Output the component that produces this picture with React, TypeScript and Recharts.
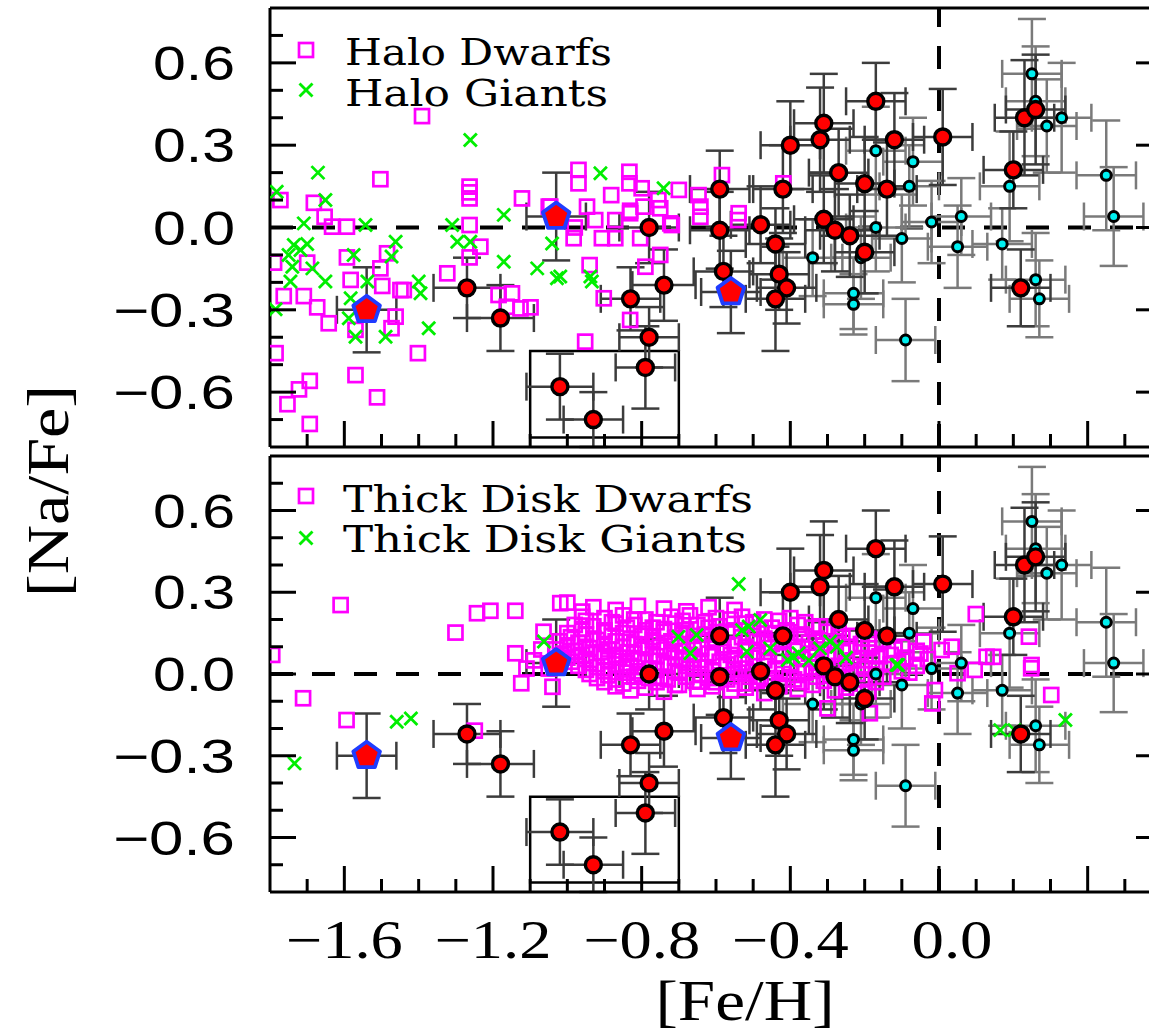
import React from 'react';
import { ScatterChart, Scatter, XAxis, YAxis, ReferenceLine, ReferenceArea, ErrorBar } from 'recharts';

// ---------- axes ----------
const X_DOMAIN: [number, number] = [-1.8, 0.6];
const Y_DOMAIN: [number, number] = [-0.8, 0.8];
const xMajorTicks = [-1.6, -1.2, -0.8, -0.4, 0.0, 0.4];
const xAllTicks = [-1.7, -1.6, -1.5, -1.4, -1.3, -1.2, -1.1, -1.0, -0.9, -0.8, -0.7, -0.6, -0.5, -0.4, -0.3, -0.2, -0.1, 0.0, 0.1, 0.2, 0.3, 0.4, 0.5];
const xLabelTicks = [-1.6, -1.2, -0.8, -0.4, 0.0];
const yMajorTicks = [-0.6, -0.3, 0.0, 0.3, 0.6];
const yAllTicks = [-0.7, -0.6, -0.5, -0.4, -0.3, -0.2, -0.1, 0.0, 0.1, 0.2, 0.3, 0.4, 0.5, 0.6, 0.7];

// ---------- program stars [Fe/H], [Na/Fe], errFe, errNa ----------
const redStars: number[][] = [
  [-1.27, -0.22, 0.09, 0.11], [-1.18, -0.33, 0.09, 0.12], [-1.02, -0.58, 0.09, 0.12], [-0.93, -0.70, 0.08, 0.10],
  [-0.79, -0.51, 0.08, 0.15], [-0.78, -0.40, 0.08, 0.11], [-0.83, -0.26, 0.08, 0.115], [-0.74, -0.21, 0.085, 0.13],
  [-0.78, 0.00, 0.08, 0.13], [-0.59, 0.14, 0.08, 0.14], [-0.59, -0.01, 0.08, 0.14], [-0.58, -0.16, 0.08, 0.13],
  [-0.48, 0.01, 0.08, 0.14], [-0.42, 0.14, 0.08, 0.16], [-0.44, -0.06, 0.08, 0.13], [-0.43, -0.17, 0.08, 0.13],
  [-0.41, -0.22, 0.08, 0.13], [-0.44, -0.26, 0.08, 0.19], [-0.40, 0.30, 0.08, 0.16], [-0.31, 0.38, 0.08, 0.18],
  [-0.32, 0.32, 0.08, 0.19], [-0.27, 0.20, 0.08, 0.16], [-0.31, 0.03, 0.08, 0.16], [-0.28, -0.01, 0.08, 0.15],
  [-0.24, -0.03, 0.08, 0.15], [-0.20, 0.16, 0.08, 0.17], [-0.17, 0.46, 0.08, 0.14], [-0.14, 0.14, 0.08, 0.17],
  [-0.12, 0.32, 0.08, 0.17], [-0.20, -0.09, 0.08, 0.15], [0.01, 0.33, 0.08, 0.175], [0.20, 0.21, 0.08, 0.14],
  [0.23, 0.40, 0.08, 0.21], [0.26, 0.43, 0.08, 0.2], [0.22, -0.22, 0.08, 0.14],
];
const cyanStars: number[][] = [
  [-0.34, -0.11, 0.08, 0.14], [-0.23, -0.24, 0.08, 0.13], [-0.23, -0.28, 0.08, 0.11], [-0.21, -0.11, 0.08, 0.15],
  [-0.17, 0.28, 0.08, 0.16], [-0.17, 0.00, 0.08, 0.16], [-0.10, -0.04, 0.08, 0.16], [-0.09, -0.41, 0.08, 0.15],
  [-0.07, 0.24, 0.08, 0.16], [-0.08, 0.15, 0.08, 0.15], [-0.02, 0.02, 0.08, 0.15], [0.06, 0.04, 0.08, 0.14],
  [0.05, -0.07, 0.08, 0.15], [0.17, -0.06, 0.08, 0.13], [0.19, 0.15, 0.08, 0.2], [0.25, 0.56, 0.08, 0.2],
  [0.26, 0.46, 0.08, 0.2], [0.29, 0.37, 0.08, 0.17], [0.33, 0.40, 0.08, 0.2], [0.26, -0.19, 0.08, 0.17],
  [0.27, -0.26, 0.08, 0.14], [0.45, 0.19, 0.08, 0.2], [0.47, 0.04, 0.08, 0.18],
];
const pentaStars: number[][] = [
  [-1.54, -0.30, 0.08, 0.155], [-1.03, 0.04, 0.08, 0.16], [-0.56, -0.235, 0.08, 0.15],
];
// outlined region
const boxX = [-1.1, -0.7];
const boxY = [-0.765, -0.45];

// ---------- comparison samples ----------
const haloDwarfs: number[][] = [
  [-1.391, 0.406], [-1.503, 0.176], [-1.772, 0.10], [-1.682, 0.09], [-1.653, 0.039], [-1.122, 0.106], [-1.263, 0.149],
  [-1.263, 0.128], [-1.263, 0.106], [-1.263, 0.009], [-1.05, 0.076], [-1.633, 0.003], [-1.593, 0.003], [-1.234, -0.07],
  [-1.263, -0.109], [-1.789, -0.128], [-1.593, -0.109], [-1.70, -0.128], [-1.485, -0.094], [-1.503, -0.149], [-1.583, -0.191],
  [-1.323, -0.167], [-1.498, -0.213], [-1.449, -0.228], [-1.44, -0.228], [-1.763, -0.25], [-1.709, -0.25], [-1.673, -0.291],
  [-1.642, -0.349], [-1.462, -0.325], [-1.473, -0.367], [-1.57, -0.373], [-1.785, -0.458], [-1.402, -0.458], [-1.57, -0.538],
  [-1.693, -0.559], [-1.722, -0.59], [-1.753, -0.644], [-1.512, -0.619], [-1.693, -0.716], [-1.185, -0.246], [-1.149, -0.24],
  [-1.163, -0.289], [-1.126, -0.295], [-1.099, -0.291],
  [-0.97, 0.21], [-0.97, 0.161], [-0.833, 0.203], [-0.833, 0.161], [-0.882, 0.118], [-0.8, 0.143], [-0.70, 0.137],
  [-0.647, 0.118], [-0.584, 0.191], [-0.419, 0.161], [-0.539, 0.052], [-0.947, 0.076], [-0.831, 0.061], [-0.755, 0.10],
  [-0.75, 0.07], [-0.642, 0.076], [-0.642, 0.039], [-1.046, 0.076], [-0.925, 0.027], [-0.871, 0.027], [-0.831, 0.052],
  [-0.795, 0.076], [-0.723, 0.015],
  [-0.983, -0.039], [-0.907, -0.039], [-0.871, -0.039], [-0.804, -0.039], [-0.98, 0.0], [-0.719, 0.009], [-0.54, 0.027],
  [-0.75, -0.1], [-0.79, -0.143], [-0.94, -0.137], [-0.902, -0.258], [-0.831, -0.337], [-0.952, -0.416],
];
const haloGiants: number[][] = [
  [-1.261, 0.319], [-1.671, 0.2], [-1.782, 0.13], [-1.651, 0.1], [-1.171, 0.046], [-1.709, 0.015], [-1.543, 0.009],
  [-1.31, 0.009], [-1.736, -0.064], [-1.718, -0.082], [-1.462, -0.052], [-1.575, -0.1], [-1.473, -0.106], [-1.74, -0.143],
  [-1.686, -0.149], [-1.651, -0.197], [-1.745, -0.197], [-1.538, -0.197], [-1.4, -0.197], [-1.395, -0.24], [-1.583, -0.258],
  [-1.785, -0.298], [-1.588, -0.331], [-1.57, -0.398], [-1.489, -0.398], [-1.373, -0.367], [-1.171, -0.125], [-1.081, -0.149],
  [-1.028, -0.185], [-1.296, -0.052], [-1.261, -0.052], [-0.911, 0.198], [-0.741, 0.143], [-1.041, -0.058], [-1.019, -0.179],
  [-0.938, -0.179], [-0.934, -0.197], [-1.75, -0.10], [-1.70, -0.06],
];
const thickDwarfs: number[][] = [
  [-1.794, 0.07], [-1.711, -0.089], [-1.61, 0.253], [-1.594, -0.169], [-1.301, 0.152], [-1.243, 0.223], [-1.207, 0.232],
  [-1.249, -0.208], [-1.14, 0.232], [-1.14, 0.076], [-1.124, -0.034], [-1.064, 0.155], [-1.019, 0.26], [-1.04, -0.047],
  [-1.0, 0.262], [-0.96, 0.229], [-1.11, 0.02], [-1.07, 0.09], [-1.05, 0.02], [-1.09, 0.05],
  [0.099, 0.22], [0.242, 0.137], [0.249, 0.033], [0.034, 0.1], [-0.042, 0.119], [0.007, 0.088], [0.128, 0.063],
  [0.146, 0.063], [-0.3, -0.126], [-0.186, -0.144], [-0.018, -0.108], [-0.011, -0.059], [0.05, 0.003], [0.096, 0.015],
  [0.248, 0.021], [0.302, -0.077], [-0.643, -0.028], [-0.521, -0.034],
  [-0.93, 0.245], [-0.87, 0.235], [-0.81, 0.25], [-0.74, 0.24], [-0.68, 0.23], [-0.62, 0.245], [-0.55, 0.235],
  [-0.96, 0.21], [-0.9, 0.205], [-0.85, 0.215], [-0.79, 0.2], [-0.72, 0.21], [-0.67, 0.215], [-0.6, 0.205], [-0.53, 0.21],
  [-0.47, 0.2], [-0.4, 0.205],
  [-0.95, 0.195], [-0.88, 0.19], [-0.82, 0.2], [-0.76, 0.19], [-0.69, 0.195], [-0.63, 0.19], [-0.56, 0.2], [-0.5, 0.19],
  [-0.43, 0.195], [-0.36, 0.19],
  [-0.98, 0.18], [-0.93, 0.175], [-0.87, 0.185], [-0.82, 0.18], [-0.77, 0.17], [-0.71, 0.185], [-0.65, 0.18], [-0.59, 0.175],
  [-0.52, 0.185], [-0.45, 0.17], [-0.38, 0.18], [-0.32, 0.175],
  [-0.96, 0.165], [-0.9, 0.16], [-0.84, 0.17], [-0.79, 0.16], [-0.74, 0.165], [-0.68, 0.16], [-0.62, 0.17], [-0.55, 0.16],
  [-0.48, 0.165], [-0.41, 0.16], [-0.34, 0.17], [-0.27, 0.16],
  [-1.0, 0.15], [-0.95, 0.145], [-0.9, 0.155], [-0.85, 0.15], [-0.8, 0.14], [-0.74, 0.155], [-0.69, 0.15], [-0.63, 0.145],
  [-0.57, 0.155], [-0.5, 0.14], [-0.44, 0.15], [-0.37, 0.145], [-0.3, 0.155], [-0.24, 0.14],
  [-0.99, 0.135], [-0.93, 0.13], [-0.88, 0.14], [-0.83, 0.13], [-0.77, 0.135], [-0.71, 0.13], [-0.66, 0.14], [-0.6, 0.13],
  [-0.53, 0.135], [-0.47, 0.13], [-0.4, 0.14], [-0.33, 0.13], [-0.26, 0.135], [-0.19, 0.13],
  [-1.02, 0.12], [-0.97, 0.115], [-0.92, 0.125], [-0.87, 0.12], [-0.82, 0.11], [-0.77, 0.125], [-0.72, 0.12], [-0.66, 0.115],
  [-0.61, 0.125], [-0.55, 0.11], [-0.49, 0.12], [-0.42, 0.125], [-0.35, 0.115], [-0.28, 0.12], [-0.21, 0.11], [-0.15, 0.125],
  [-1.0, 0.105], [-0.95, 0.1], [-0.9, 0.11], [-0.85, 0.1], [-0.8, 0.105], [-0.75, 0.1], [-0.7, 0.11], [-0.64, 0.1],
  [-0.58, 0.105], [-0.52, 0.1], [-0.45, 0.11], [-0.38, 0.1], [-0.31, 0.105], [-0.24, 0.1], [-0.17, 0.11], [-0.1, 0.1],
  [-1.03, 0.09], [-0.98, 0.085], [-0.94, 0.095], [-0.89, 0.09], [-0.84, 0.08], [-0.79, 0.095], [-0.74, 0.09], [-0.69, 0.085],
  [-0.64, 0.095], [-0.58, 0.08], [-0.52, 0.09], [-0.46, 0.095], [-0.39, 0.085], [-0.33, 0.09], [-0.26, 0.08], [-0.19, 0.095],
  [-0.12, 0.09], [-0.06, 0.085],
  [-1.01, 0.075], [-0.96, 0.07], [-0.91, 0.08], [-0.87, 0.07], [-0.82, 0.075], [-0.77, 0.07], [-0.72, 0.08], [-0.67, 0.07],
  [-0.62, 0.075], [-0.56, 0.07], [-0.49, 0.08], [-0.42, 0.07], [-0.35, 0.075], [-0.28, 0.07], [-0.21, 0.08], [-0.13, 0.07],
  [-0.05, 0.075],
  [-1.0, 0.06], [-0.95, 0.055], [-0.9, 0.065], [-0.86, 0.06], [-0.81, 0.05], [-0.76, 0.065], [-0.71, 0.06], [-0.66, 0.055],
  [-0.61, 0.065], [-0.55, 0.05], [-0.5, 0.06], [-0.43, 0.065], [-0.37, 0.055], [-0.3, 0.06], [-0.23, 0.05], [-0.16, 0.065],
  [-0.09, 0.06], [-0.03, 0.055],
  [-0.99, 0.045], [-0.94, 0.04], [-0.89, 0.05], [-0.84, 0.04], [-0.79, 0.045], [-0.74, 0.04], [-0.69, 0.05], [-0.64, 0.04],
  [-0.59, 0.045], [-0.53, 0.04], [-0.47, 0.05], [-0.4, 0.04], [-0.33, 0.045], [-0.25, 0.04], [-0.18, 0.05], [-0.11, 0.04],
  [-0.97, 0.03], [-0.92, 0.025], [-0.87, 0.035], [-0.83, 0.03], [-0.78, 0.02], [-0.73, 0.035], [-0.68, 0.03], [-0.63, 0.025],
  [-0.57, 0.035], [-0.52, 0.02], [-0.46, 0.03], [-0.4, 0.035], [-0.34, 0.025], [-0.27, 0.03], [-0.2, 0.02], [-0.13, 0.035],
  [-0.06, 0.03],
  [-0.95, 0.015], [-0.9, 0.01], [-0.85, 0.02], [-0.81, 0.01], [-0.76, 0.015], [-0.71, 0.01], [-0.66, 0.02], [-0.61, 0.01],
  [-0.55, 0.015], [-0.5, 0.01], [-0.44, 0.02], [-0.38, 0.01], [-0.31, 0.015], [-0.24, 0.01], [-0.17, 0.02], [-0.1, 0.01],
  [-0.94, 0.0], [-0.89, -0.005], [-0.84, 0.005], [-0.8, 0.0], [-0.75, -0.01], [-0.7, 0.005], [-0.64, 0.0], [-0.59, -0.005],
  [-0.54, 0.005], [-0.48, -0.01], [-0.42, 0.0], [-0.36, 0.005], [-0.29, -0.005], [-0.22, 0.0], [-0.15, -0.01], [-0.08, 0.005],
  [-0.92, -0.015], [-0.87, -0.02], [-0.82, -0.01], [-0.78, -0.015], [-0.73, -0.02], [-0.68, -0.01], [-0.62, -0.015],
  [-0.57, -0.02], [-0.51, -0.01], [-0.45, -0.015], [-0.39, -0.02], [-0.33, -0.01], [-0.26, -0.015], [-0.2, -0.02],
  [-0.9, -0.03], [-0.85, -0.035], [-0.81, -0.025], [-0.76, -0.03], [-0.71, -0.04], [-0.66, -0.025], [-0.6, -0.03], [-0.55, -0.035],
  [-0.49, -0.025], [-0.43, -0.04], [-0.37, -0.03], [-0.31, -0.025], [-0.24, -0.035], [-0.17, -0.03],
  [-0.87, -0.045], [-0.79, -0.05], [-0.7, -0.04], [-0.61, -0.045], [-0.52, -0.05], [-0.43, -0.045], [-0.34, -0.04], [-0.25, -0.05],
  [-0.83, -0.06], [-0.74, -0.065], [-0.65, -0.055], [-0.56, -0.06], [-0.47, -0.07], [-0.38, -0.055], [-0.28, -0.06], [-0.19, -0.065],
];
const thickGiants: number[][] = [
  [-1.734, -0.328], [-1.459, -0.175], [-1.421, -0.163], [0.165, -0.206], [0.203, -0.206], [0.34, -0.169], [-0.407, 0.051],
  [-0.11, 0.033], [-0.539, 0.33], [-1.063, 0.119], [-0.701, 0.137], [-0.652, 0.143], [-0.669, 0.076], [-0.53, 0.161],
  [-0.512, 0.174], [-0.481, 0.198], [-0.517, 0.082], [-0.454, 0.094], [-0.392, 0.063], [-0.378, 0.076], [-0.32, 0.094],
  [-0.293, 0.119], [-0.275, 0.1], [-0.114, 0.033], [-0.35, 0.05], [-0.25, 0.06],
];

const toPts = (a: number[][]) => a.map(([x, y]) => ({ x, y }));
const toErr = (a: number[][]) => a.map(([x, y, ex, ey]) => ({ x, y, ex, ey }));

// ---------- marker shapes ----------
const SquareShape = (p: any) => (
  <rect x={p.cx - 7} y={p.cy - 7} width={14} height={14} fill="none" stroke="#ff00ff" strokeWidth={2.7} />
);
const CrossShape = (p: any) => (
  <g stroke="#00ee00" strokeWidth={2.8}>
    <line x1={p.cx - 6.5} y1={p.cy - 6.5} x2={p.cx + 6.5} y2={p.cy + 6.5} />
    <line x1={p.cx - 6.5} y1={p.cy + 6.5} x2={p.cx + 6.5} y2={p.cy - 6.5} />
  </g>
);
const RedShape = (p: any) => <circle cx={p.cx} cy={p.cy} r={8} fill="#ff0000" stroke="#000" strokeWidth={3.4} />;
const CyanShape = (p: any) => <circle cx={p.cx} cy={p.cy} r={5} fill="#00f0f0" stroke="#000" strokeWidth={3} />;
const PentaShape = (p: any) => {
  const R = 14;
  const pts = [0, 1, 2, 3, 4]
    .map((i) => {
      const a = -Math.PI / 2 + (i * 2 * Math.PI) / 5;
      return `${p.cx + R * Math.cos(a)},${p.cy + R * Math.sin(a)}`;
    })
    .join(' ');
  return <polygon points={pts} fill="#ff0000" stroke="#1f3cff" strokeWidth={3.8} strokeLinejoin="round" />;
};

const fmt = (v: number) => {
  const s = Math.abs(v).toFixed(1);
  return v < -1e-9 ? '\u2212' + s : s;
};
const isIn = (arr: number[], v: number) => arr.some((t) => Math.abs(t - v) < 1e-6);

type Box = { top: number; bottom: number; left: number; right: number };

const makeXTick = (side: 'top' | 'bottom', b: Box, labelY?: number) => (p: any) => {
  const v = p.payload.value;
  const x = p.x;
  const len = isIn(xMajorTicks, v) ? 26 : 13;
  const y0 = side === 'bottom' ? b.bottom : b.top;
  const y1 = side === 'bottom' ? b.bottom - len : b.top + len;
  const showLabel = labelY !== undefined && isIn(xLabelTicks, v);
  const isZero = Math.abs(v) < 1e-6;
  return (
    <g>
      <line x1={x} x2={x} y1={y0} y2={y1} stroke="#000" strokeWidth={3} />
      {showLabel && (
        <text x={x + (isZero ? 13 : 0)} y={labelY} textAnchor="middle" fontFamily="'Liberation Serif', 'Times New Roman', serif"
          fontSize={54} textLength={isZero ? 81 : 117} lengthAdjust="spacingAndGlyphs" fill="#000">{fmt(v)}</text>
      )}
    </g>
  );
};

const makeYTick = (side: 'left' | 'right', b: Box, withLabel: boolean) => (p: any) => {
  const v = p.payload.value;
  const y = p.y;
  const len = isIn(yMajorTicks, v) ? 26 : 13;
  const x0 = side === 'left' ? b.left : b.right;
  const x1 = side === 'left' ? b.left + len : b.right - len;
  const showLabel = withLabel && isIn(yMajorTicks, v);
  return (
    <g>
      <line x1={x0} x2={x1} y1={y} y2={y} stroke="#000" strokeWidth={3} />
      {showLabel && (
        <text x={235} y={y + 17} textAnchor="end" fontFamily="'Liberation Sans', Arial, sans-serif" fontSize={48}
          textLength={v < -1e-9 ? 122 : 82} lengthAdjust="spacingAndGlyphs" fill="#000">{fmt(v)}</text>
      )}
    </g>
  );
};

const AX = { stroke: '#000', strokeWidth: 3 };

function Panel(props: { height: number; plotTop: number; plotBottom: number; dwarfs: number[][]; giants: number[][]; xLabelY?: number }) {
  const { height, plotTop, plotBottom, dwarfs, giants, xLabelY } = props;
  const b: Box = { top: plotTop, bottom: plotBottom, left: 270, right: 1162 };
  const margin = { top: plotTop - 1, bottom: height - plotBottom - 1, left: 269, right: 1200 - 1162 - 1 };
  const cx = { type: 'number' as const, domain: X_DOMAIN, allowDataOverflow: true, interval: 0 as const, height: 1, ticks: xAllTicks, tickLine: false, axisLine: AX };
  const cy = { type: 'number' as const, domain: Y_DOMAIN, allowDataOverflow: true, interval: 0 as const, width: 1, ticks: yAllTicks, tickLine: false, axisLine: AX };
  return (
    <ScatterChart width={1200} height={height} margin={margin}>
      <XAxis {...cx} xAxisId="xb" dataKey="x" orientation="bottom" tick={makeXTick('bottom', b, xLabelY)} />
      <XAxis {...cx} xAxisId="xt" orientation="top" tick={makeXTick('top', b)} />
      <YAxis {...cy} yAxisId="yl" dataKey="y" orientation="left" tick={makeYTick('left', b, true)} />
      <YAxis {...cy} yAxisId="yr" orientation="right" tick={makeYTick('right', b, false)} />

      <ReferenceLine xAxisId="xb" yAxisId="yl" y={0} stroke="#000" strokeWidth={4} strokeDasharray="23 19" />
      <ReferenceLine xAxisId="xb" yAxisId="yl" x={0} stroke="#000" strokeWidth={4} strokeDasharray="23 19" />
      <ReferenceArea xAxisId="xb" yAxisId="yl" x1={boxX[0]} x2={boxX[1]} y1={boxY[0]} y2={boxY[1]} fill="none" stroke="#000" strokeWidth={2.5} />

      <Scatter xAxisId="xb" yAxisId="yl" data={toPts(dwarfs)} shape={SquareShape} isAnimationActive={false} />
      <Scatter xAxisId="xb" yAxisId="yl" data={toPts(giants)} shape={CrossShape} isAnimationActive={false} />

      <Scatter xAxisId="xb" yAxisId="yl" data={toErr(cyanStars)} shape={CyanShape} isAnimationActive={false}>
        <ErrorBar dataKey="ex" direction="x" width={14} stroke="#7a7a7a" strokeWidth={2.5} isAnimationActive={false} />
        <ErrorBar dataKey="ey" direction="y" width={14} stroke="#7a7a7a" strokeWidth={2.5} isAnimationActive={false} />
      </Scatter>
      <Scatter xAxisId="xb" yAxisId="yl" data={toErr(redStars)} shape={RedShape} isAnimationActive={false}>
        <ErrorBar dataKey="ex" direction="x" width={14} stroke="#3c3c3c" strokeWidth={2.5} isAnimationActive={false} />
        <ErrorBar dataKey="ey" direction="y" width={14} stroke="#3c3c3c" strokeWidth={2.5} isAnimationActive={false} />
      </Scatter>
      <Scatter xAxisId="xb" yAxisId="yl" data={toErr(pentaStars)} shape={PentaShape} isAnimationActive={false}>
        <ErrorBar dataKey="ex" direction="x" width={14} stroke="#3c3c3c" strokeWidth={2.5} isAnimationActive={false} />
        <ErrorBar dataKey="ey" direction="y" width={14} stroke="#3c3c3c" strokeWidth={2.5} isAnimationActive={false} />
      </Scatter>
    </ScatterChart>
  );
}

const legendFont = "'DejaVu Serif', 'Liberation Serif', serif";

function LegendItem(props: { kind: 'sq' | 'x'; x: number; y: number; tx: number; ty: number; text: string; len: number }) {
  const { kind, x, y, tx, ty, text, len } = props;
  return (
    <g>
      {kind === 'sq' ? (
        <rect x={x - 7} y={y - 7} width={14} height={14} fill="none" stroke="#ff00ff" strokeWidth={2.7} />
      ) : (
        <g stroke="#00ee00" strokeWidth={2.8}>
          <line x1={x - 6.5} y1={y - 6.5} x2={x + 6.5} y2={y + 6.5} />
          <line x1={x - 6.5} y1={y + 6.5} x2={x + 6.5} y2={y - 6.5} />
        </g>
      )}
      <text x={tx} y={ty} fontFamily={legendFont} fontSize={38} textLength={len} lengthAdjust="spacingAndGlyphs" fill="#000">{text}</text>
    </g>
  );
}

export default function App() {
  return (
    <div style={{ position: 'absolute', left: 0, top: 0, width: 1149, height: 1035, overflow: 'hidden', background: '#fff' }}>
      <div style={{ position: 'absolute', left: 0, top: 0 }}>
        <Panel height={450} plotTop={8} plotBottom={447} dwarfs={haloDwarfs} giants={haloGiants} />
      </div>
      <div style={{ position: 'absolute', left: 0, top: 450 }}>
        <Panel height={585} plotTop={6} plotBottom={442} dwarfs={thickDwarfs} giants={thickGiants} xLabelY={508} />
      </div>
      <svg style={{ position: 'absolute', left: 0, top: 0, pointerEvents: 'none' }} width={1149} height={1035}>
        <LegendItem kind="sq" x={306} y={50} tx={345} ty={65} text="Halo Dwarfs" len={267} />
        <LegendItem kind="x" x={306} y={90} tx={345} ty={106} text="Halo Giants" len={263} />
        <LegendItem kind="sq" x={306} y={496} tx={343} ty={512} text="Thick Disk Dwarfs" len={410} />
        <LegendItem kind="x" x={306} y={538} tx={343} ty={552} text="Thick Disk Giants" len={404} />
        <text x={745} y={1020} textAnchor="middle" fontFamily="'Liberation Serif', serif" fontSize={58} textLength={179}
          lengthAdjust="spacingAndGlyphs" fill="#000">[Fe/H]</text>
        <text transform="translate(68,491) rotate(-90)" x={0} y={0} textAnchor="middle" fontFamily="'Liberation Serif', serif"
          fontSize={60} textLength={212} lengthAdjust="spacingAndGlyphs" fill="#000">[Na/Fe]</text>
      </svg>
    </div>
  );
}
